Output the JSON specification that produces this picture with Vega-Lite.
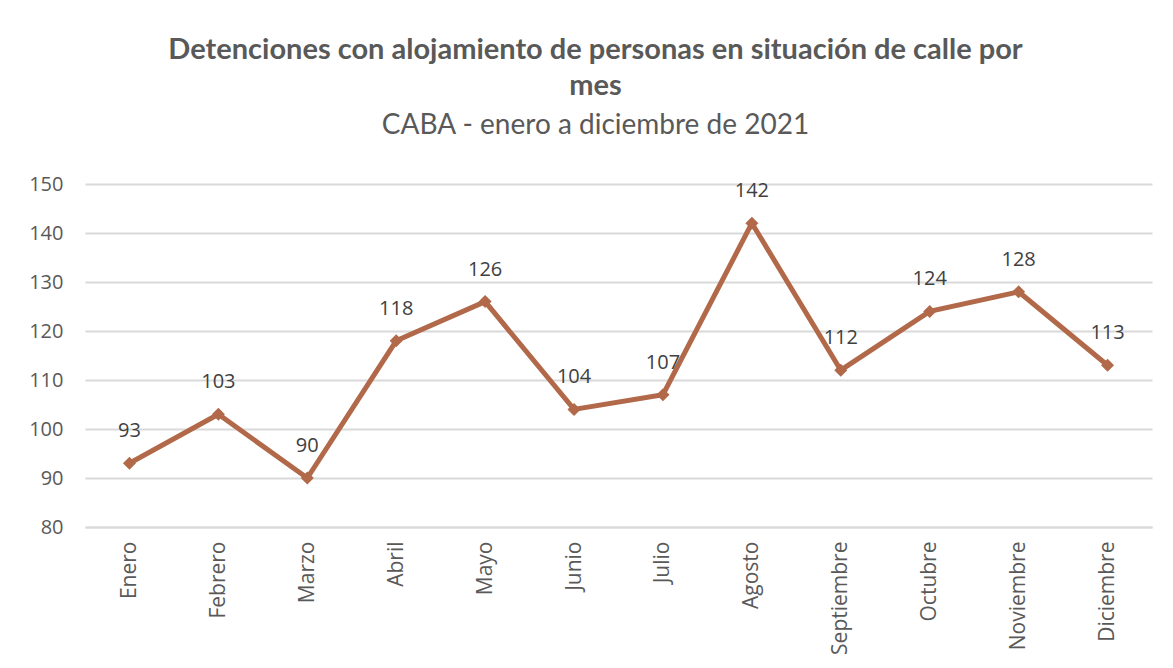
{
  "$schema": "https://vega.github.io/schema/vega-lite/v6.json",
  "width": 1067,
  "height": 343,
  "autosize": {"type": "none"},
  "padding": {"left": 85, "top": 184, "right": 21, "bottom": 141},
  "background": "white",
  "title": {
    "text": ["Detenciones con alojamiento de personas en situación de calle por", "mes"],
    "subtitle": "CABA - enero a diciembre de 2021",
    "font": "Lato",
    "fontSize": 29,
    "fontWeight": "bold",
    "color": "#595959",
    "lineHeight": 36,
    "subtitleFont": "Lato",
    "subtitleFontSize": 28,
    "subtitleColor": "#595959",
    "subtitlePadding": 11,
    "anchor": "middle",
    "dx": -23,
    "offset": 34
  },
  "data": {
    "values": [
      {"mes": "Enero", "valor": 93},
      {"mes": "Febrero", "valor": 103},
      {"mes": "Marzo", "valor": 90},
      {"mes": "Abril", "valor": 118},
      {"mes": "Mayo", "valor": 126},
      {"mes": "Junio", "valor": 104},
      {"mes": "Julio", "valor": 107},
      {"mes": "Agosto", "valor": 142},
      {"mes": "Septiembre", "valor": 112},
      {"mes": "Octubre", "valor": 124},
      {"mes": "Noviembre", "valor": 128},
      {"mes": "Diciembre", "valor": 113}
    ]
  },
  "encoding": {
    "x": {
      "field": "mes",
      "type": "nominal",
      "sort": null,
      "scale": {"paddingInner": 0, "paddingOuter": 0.5},
      "axis": {
        "title": null,
        "labelAngle": -90,
        "labelFont": "Open Sans",
        "labelFontSize": 21,
        "labelColor": "#595959",
        "labelPadding": 14,
        "ticks": false,
        "domainColor": "#d9d9d9",
        "domainWidth": 2
      }
    },
    "y": {
      "field": "valor",
      "type": "quantitative",
      "scale": {"domain": [80, 150], "nice": false, "zero": false},
      "axis": {
        "title": null,
        "values": [80, 90, 100, 110, 120, 130, 140, 150],
        "labelFont": "Open Sans",
        "labelFontSize": 20,
        "labelColor": "#595959",
        "labelPadding": 22,
        "ticks": false,
        "domain": false,
        "gridColor": "#d9d9d9",
        "gridWidth": 2
      }
    }
  },
  "layer": [
    {
      "mark": {"type": "line", "color": "#B1694A", "strokeWidth": 5}
    },
    {
      "mark": {"type": "point", "shape": "diamond", "filled": true, "color": "#B1694A", "size": 170, "opacity": 1}
    },
    {
      "mark": {"type": "text", "dy": -32, "font": "Open Sans", "fontSize": 20, "color": "#404040"},
      "encoding": {"text": {"field": "valor", "type": "quantitative"}}
    }
  ],
  "config": {
    "view": {"stroke": null}
  }
}
